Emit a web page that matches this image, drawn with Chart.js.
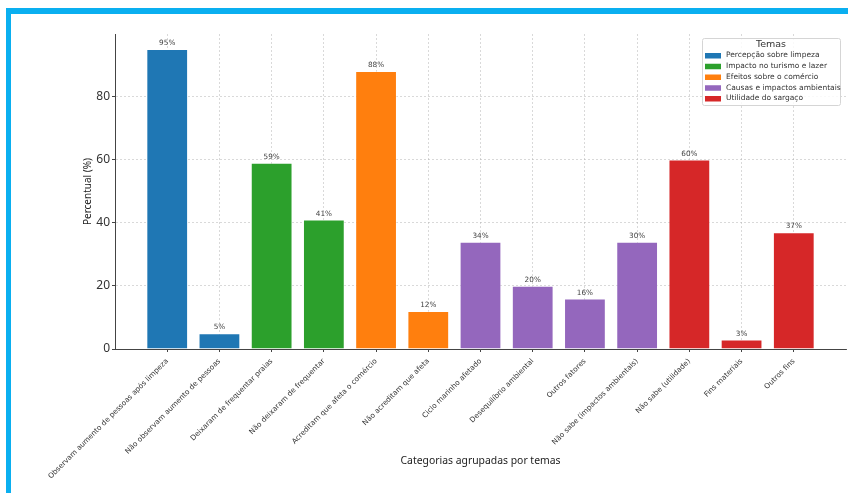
<!DOCTYPE html>
<html>
<head>
<meta charset="utf-8">
<script src="https://cdn.jsdelivr.net/npm/chart.js@4"></script>
<style>
	body { margin: 0; background: #fff; }
	#wrap { position: relative; width: 848px; height: 493px; overflow: hidden; }
	#frame {
		position: absolute; left: 6px; top: 8px; right: 0; bottom: 0;
		border-top: 6px solid #0aaff0; border-left: 5px solid #0aaff0;
	}
	canvas { position: absolute; left: 0; top: 0; }
</style>
</head>
<body>
<div id="wrap">
	<div id="frame"></div>
	<canvas id="cntx_temas" width="848" height="493"></canvas>
</div>
<script>
const categorias = [
	"Observam aumento de pessoas após limpeza",
	"Não observam aumento de pessoas",
	"Deixaram de frequentar praias",
	"Não deixaram de frequentar",
	"Acreditam que afeta o comércio",
	"Não acreditam que afeta",
	"Ciclo marinho afetado",
	"Desequilíbrio ambiental",
	"Outros fatores",
	"Não sabe (impactos ambientais)",
	"Não sabe (utilidade)",
	"Fins materiais",
	"Outros fins",
];
// bar heights as drawn, and the percent text printed above each bar
const alturas = [95, 5, 59, 41, 88, 12, 34, 20, 16, 34, 60, 3, 37];
const rotulos = ["95%", "5%", "59%", "41%", "88%", "12%", "34%", "20%", "16%", "30%", "60%", "3%", "37%"];
const temas = [
	"Percepção sobre limpeza",
	"Impacto no turismo e lazer",
	"Efeitos sobre o comércio",
	"Causas e impactos ambientais",
	"Utilidade do sargaço",
];
const tema_idx = [0, 0, 1, 1, 2, 2, 3, 3, 3, 3, 4, 4, 4];
const cores = ["#1f77b4", "#2ca02c", "#ff7f0e", "#9467bd", "#d62728"];
const y_ticks = [0, 20, 40, 60, 80];

const datasets = temas.map((tema, t) => ({
	label: tema,
	data: categorias
		.map((c, i) => ({ x: i, y: alturas[i], t: tema_idx[i] }))
		.filter((p) => p.t === t),
	backgroundColor: cores[t],
	borderColor: "rgba(255,255,255,0.35)",
	borderWidth: 1,
	grouped: false,
	barPercentage: 1,
	categoryPercentage: 0.8,
}));

const valueLabels = {
	id: "valueLabels",
	afterDatasetsDraw(chart) {
		const ctx = chart.ctx;
		const xs = chart.scales.x;
		const ys = chart.scales.y;
		ctx.save();
		ctx.font = "7.3px 'DejaVu Sans'";
		ctx.fillStyle = "#444";
		ctx.textAlign = "center";
		ctx.textBaseline = "bottom";
		alturas.forEach((v, i) => {
			ctx.fillText(rotulos[i], xs.getPixelForValue(i), ys.getPixelForValue(v) - 2);
		});
		ctx.restore();
	},
};

const temasLegend = {
	id: "temasLegend",
	afterDraw(chart) {
		const ctx = chart.ctx;
		const a = chart.chartArea;
		const w = 138, h = 67;
		const x0 = a.right - 6 - w, y0 = a.top + 4;
		ctx.save();
		ctx.fillStyle = "rgba(255,255,255,0.85)";
		ctx.strokeStyle = "#d5d5d5";
		ctx.lineWidth = 1;
		ctx.beginPath();
		ctx.roundRect(x0 + 0.5, y0 + 0.5, w, h, 2);
		ctx.fill();
		ctx.stroke();
		ctx.fillStyle = "#333";
		ctx.textAlign = "center";
		ctx.textBaseline = "middle";
		ctx.font = "9.5px 'DejaVu Sans'";
		ctx.fillText("Temas", x0 + w / 2, y0 + 7);
		ctx.textAlign = "left";
		ctx.font = "7.5px 'DejaVu Sans'";
		temas.forEach((tema, t) => {
			const yc = y0 + 17.5 + t * 10.75;
			ctx.fillStyle = cores[t];
			ctx.fillRect(x0 + 3, yc - 2.5, 16, 5.5);
			ctx.fillStyle = "#333";
			ctx.fillText(tema, x0 + 24, yc);
		});
		ctx.restore();
	},
};

new Chart(document.querySelector("#cntx_temas"), {
	type: "bar",
	data: { datasets: datasets },
	plugins: [valueLabels, temasLegend],
	options: {
		responsive: false,
		animation: false,
		devicePixelRatio: 1,
		layout: { padding: { top: 34, right: 2, left: 0, bottom: 0 } },
		plugins: {
			legend: { display: false },
			tooltip: { enabled: false },
		},
		scales: {
			x: {
				type: "linear",
				min: -1,
				max: 13,
				offset: false,
				z: 1,
				afterBuildTicks: (s) => {
					s.ticks = categorias.map((c, i) => ({ value: i }));
				},
				afterFit: (s) => {
					s.height = 144;
				},
				ticks: {
					autoSkip: false,
					minRotation: 45,
					maxRotation: 45,
					padding: 5,
					color: "#333",
					font: { family: "DejaVu Sans", size: 7.3 },
					callback: (v) => categorias[v],
				},
				grid: {
					offset: false,
					color: "rgba(175,175,175,0.6)",
					lineWidth: 0.8,
					tickColor: "#444",
					tickLength: 3,
					tickWidth: 1,
					tickBorderDash: [],
				},
				border: { display: true, color: "#444", width: 1, dash: [2, 2] },
				title: {
					display: true,
					text: "Categorias agrupadas por temas",
					color: "#222",
					font: { family: "Noto Sans", size: 10.4 },
					padding: { top: 0, bottom: 26 },
				},
			},
			y: {
				min: 0,
				max: 99.75,
				z: 1,
				afterBuildTicks: (s) => {
					s.ticks = y_ticks.map((v) => ({ value: v }));
				},
				afterFit: (s) => {
					s.width = 115;
				},
				ticks: {
					padding: 2,
					color: "#333",
					font: { family: "Noto Sans", size: 12 },
				},
				grid: {
					color: "rgba(175,175,175,0.6)",
					lineWidth: 0.8,
					tickColor: "#444",
					tickLength: 3,
					tickWidth: 1,
					tickBorderDash: [],
				},
				border: { display: true, color: "#444", width: 1, dash: [2, 2] },
				title: {
					display: true,
					text: "Percentual (%)",
					color: "#222",
					font: { family: "Noto Sans", size: 10 },
					padding: { top: 82, bottom: 0 },
				},
			},
		},
	},
});
</script>
</body>
</html>
